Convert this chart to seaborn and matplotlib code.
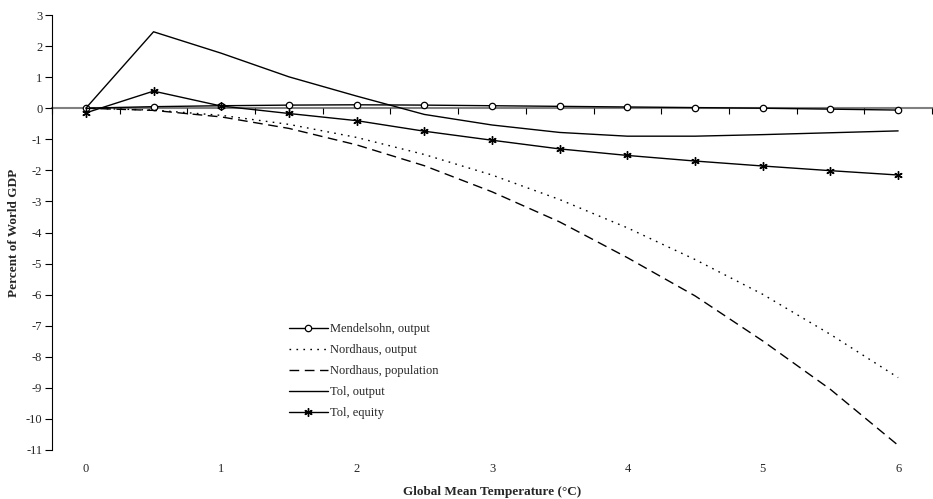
import numpy as np
import pandas as pd
import matplotlib
matplotlib.use("Agg")
import matplotlib.pyplot as plt
import seaborn as sns

# ---- data ----
temps = [0, 0.5, 1, 1.5, 2, 2.5, 3, 3.5, 4, 4.5, 5, 5.5, 6]
mendelsohn_output = [0.0, 0.05, 0.08, 0.10, 0.11, 0.10, 0.08, 0.06, 0.04, 0.02, 0.0, -0.03, -0.06]
nordhaus_output = [0.0, -0.06, -0.23, -0.52, -0.94, -1.49, -2.15, -2.94, -3.85, -4.87, -5.99, -7.28, -8.67]
nordhaus_population = [0.0, -0.07, -0.28, -0.65, -1.18, -1.85, -2.69, -3.66, -4.81, -6.04, -7.49, -9.05, -10.85]
tol_output = [0.0, 2.46, 1.77, 1.01, 0.39, -0.20, -0.54, -0.78, -0.90, -0.90, -0.85, -0.79, -0.73]
tol_equity = [-0.15, 0.55, 0.07, -0.17, -0.40, -0.74, -1.03, -1.31, -1.52, -1.70, -1.86, -2.01, -2.15]
y_ticks = list(range(-11, 4))
x_tick_labels = ["0", "1", "2", "3", "4", "5", "6"]

series = {
    "Mendelsohn, output": mendelsohn_output,
    "Nordhaus, output": nordhaus_output,
    "Nordhaus, population": nordhaus_population,
    "Tol, output": tol_output,
    "Tol, equity": tol_equity,
}

sns.set_theme(style="white")
plt.rcParams["font.family"] = ["Liberation Serif", "DejaVu Serif"]

FS = 9

fig = plt.figure(figsize=(9.33, 4.99), dpi=100)
ax = fig.add_axes([52 / 933, (499 - 450) / 499, (932 - 52) / 933, (450 - 15) / 499])

idx = np.arange(len(temps))
styles = {
    "Mendelsohn, output": dict(linestyle="-", marker="o", markersize=4.6, markerfacecolor="white",
                               markeredgecolor="black", markeredgewidth=0.9),
    "Nordhaus, output": dict(linestyle=(0, (1.2, 3.8)), marker=None),
    "Nordhaus, population": dict(linestyle=(0, (7, 4)), marker=None),
    "Tol, output": dict(linestyle="-", marker=None),
    "Tol, equity": dict(linestyle="-", marker=(6, 2, 0), markersize=6,
                        markeredgecolor="black", markeredgewidth=1.0),
}

for name, vals in series.items():
    df = pd.DataFrame({"idx": idx, "val": vals})
    sns.lineplot(data=df, x="idx", y="val", ax=ax, color="black", linewidth=1.0,
                 label=name, legend=False, **styles[name])

ax.set_xlim(-0.5, len(temps) - 0.5)
ax.set_ylim(-11, 3)

# y axis
ax.set_yticks(y_ticks)
ax.set_yticklabels([str(v) for v in y_ticks])
ax.tick_params(axis="y", direction="out", length=5, width=0.8, color="black",
               labelsize=FS, pad=2, left=True)
ax.spines["left"].set_color("black")
ax.spines["left"].set_linewidth(0.8)
ax.spines["top"].set_visible(False)
ax.spines["right"].set_visible(False)

# category axis crossing at y=0
ax.spines["bottom"].set_position(("data", 0))
ax.spines["bottom"].set_color("#808080")
ax.spines["bottom"].set_linewidth(1.5)
ax.spines["bottom"].set_zorder(0.5)
ax.set_xticks(np.arange(-0.5, len(temps) + 0.5, 1.0))
ax.set_xticklabels([])
ax.tick_params(axis="x", direction="out", length=4, width=0.8, color="black", bottom=True)
ax.set_xlabel("")
ax.set_ylabel("Percent of World GDP", fontsize=9.5, fontweight="bold", labelpad=4)

# labels at bottom of plot area
sec = ax.secondary_xaxis("bottom")
sec.set_xticks(idx[::2])
sec.set_xticklabels(x_tick_labels)
sec.tick_params(length=0, labelsize=FS, pad=9)
sec.spines["bottom"].set_visible(False)
sec.set_xlabel("Global Mean Temperature (\u00b0C)", fontsize=9.5, fontweight="bold", labelpad=8)

h, l = ax.get_legend_handles_labels()
leg = ax.legend(h, l, loc="upper left", bbox_to_anchor=(284 / 933, 1 - 318 / 499),
                bbox_transform=fig.transFigure, frameon=False, fontsize=FS,
                handlelength=3.1, handletextpad=0.15, labelspacing=0.72, borderaxespad=0)

fig.savefig("out.png", dpi=100)
